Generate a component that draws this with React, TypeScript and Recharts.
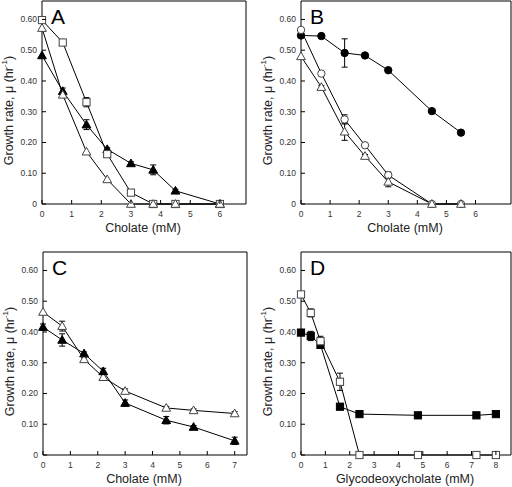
import React from 'react'
import { LineChart, Line, XAxis, YAxis, ErrorBar, ReferenceArea } from 'recharts'

const FONT = '"Liberation Sans", Arial, Helvetica, sans-serif'

// shared y axis
const Y_MAX = 0.66
const Y_TICKS = [0, 0.1, 0.2, 0.3, 0.4, 0.5, 0.6]
const Y_TICK_LABELS = ['0', '0.10', '0.20', '0.30', '0.40', '0.50', '0.60']

// Panel A – cholate
const A_X = [0, 0.7, 1.5, 2.2, 3, 3.75, 4.5, 6]
const A_OPEN_SQUARE = [0.598, 0.525, 0.331, 0.162, 0.037, 0, 0, 0]
const A_OPEN_SQUARE_ERR = [0, 0.005, 0.015, 0.005, 0.005, 0, 0, 0]
const A_OPEN_TRI = [0.572, 0.355, 0.17, 0.08, 0, 0, 0, 0]
const A_OPEN_TRI_ERR = [0, 0, 0, 0, 0, 0, 0, 0]
const A_FILLED_TRI = [0.483, 0.367, 0.258, 0.178, 0.132, 0.111, 0.043, 0]
const A_FILLED_TRI_ERR = [0, 0.01, 0.016, 0.005, 0.005, 0.016, 0.005, 0]
const A_X_TICKS = [0, 1, 2, 3, 4, 5, 6]

// Panel B – cholate
const B_X = [0, 0.7, 1.5, 2.2, 3, 4.5, 5.5]
const B_FILLED_CIRCLE = [0.548, 0.546, 0.491, 0.483, 0.435, 0.302, 0.232]
const B_FILLED_CIRCLE_ERR = [0, 0, 0.046, 0, 0, 0, 0]
const B_OPEN_CIRCLE = [0.566, 0.424, 0.275, 0.191, 0.094, 0, 0]
const B_OPEN_CIRCLE_ERR = [0, 0.006, 0.015, 0.005, 0.01, 0, 0]
const B_OPEN_TRI = [0.48, 0.38, 0.235, 0.156, 0.072, 0, 0]
const B_OPEN_TRI_ERR = [0, 0.005, 0.028, 0.005, 0.016, 0, 0]
const B_X_TICKS = [0, 1, 2, 3, 4, 5, 6]

// Panel C – cholate
const C_X = [0, 0.7, 1.5, 2.2, 3, 4.5, 5.5, 7]
const C_OPEN_TRI = [0.465, 0.419, 0.311, 0.253, 0.208, 0.153, 0.145, 0.135]
const C_OPEN_TRI_ERR = [0, 0.016, 0.005, 0.01, 0.007, 0.005, 0.005, 0.006]
const C_FILLED_TRI = [0.416, 0.374, 0.33, 0.272, 0.169, 0.113, 0.091, 0.046]
const C_FILLED_TRI_ERR = [0.01, 0.02, 0.005, 0.01, 0.01, 0.012, 0.005, 0.012]
const C_X_TICKS = [0, 1, 2, 3, 4, 5, 6, 7]

// Panel D – glycodeoxycholate
const D_X = [0, 0.4, 0.8, 1.6, 2.4, 4.8, 7.2, 8]
const D_OPEN_SQUARE = [0.522, 0.462, 0.37, 0.238, 0, 0, 0, 0]
const D_OPEN_SQUARE_ERR = [0.005, 0.013, 0.016, 0.028, 0, 0, 0, 0]
const D_FILLED_SQUARE = [0.398, 0.387, 0.358, 0.157, 0.133, 0.129, 0.129, 0.133]
const D_FILLED_SQUARE_ERR = [0.005, 0.015, 0.008, 0, 0, 0, 0, 0]
const D_X_TICKS = [0, 1, 2, 3, 4, 5, 6, 7, 8]

type Shape = 'square' | 'triangle' | 'circle'

interface Series {
  key: string
  shape: Shape
  filled: boolean
  values: number[]
  errors: number[]
}

interface PanelProps {
  letter: string
  xLabel: string
  left: number
  top: number
  width: number
  height: number
  margin: { top: number; right: number; bottom: number; left: number }
  yAxisWidth: number
  xAxisHeight: number
  xMax: number
  xTicks: number[]
  xs: number[]
  series: Series[]
}

function Marker({ cx, cy, shape, filled }: { cx?: number; cy?: number; shape: Shape; filled: boolean }) {
  if (cx == null || cy == null) return null
  const fill = filled ? '#000' : '#fff'
  const stroke = filled ? '#000' : '#444'
  if (shape === 'square') {
    return <rect x={cx - 3.6} y={cy - 3.6} width={7.2} height={7.2} fill={fill} stroke={stroke} strokeWidth={1} />
  }
  if (shape === 'circle') {
    return <circle cx={cx} cy={cy} r={3.7} fill={fill} stroke={stroke} strokeWidth={1} />
  }
  return (
    <polygon
      points={`${cx},${cy - 4.4} ${cx - 4.4},${cy + 3.3} ${cx + 4.4},${cy + 3.3}`}
      fill={fill}
      stroke={stroke}
      strokeWidth={1}
    />
  )
}

function XTick(props: any) {
  const { x, y, payload } = props
  return (
    <g>
      <line x1={x} x2={x} y1={y} y2={y - 4} stroke="#000" strokeWidth={1} />
      <text x={x} y={y + 10} textAnchor="middle" dominantBaseline="central" fontSize={8.5} fill="#333" fontFamily={FONT}>
        {payload.value}
      </text>
    </g>
  )
}

function YTick(props: any) {
  const { x, y, payload } = props
  const idx = Y_TICKS.indexOf(payload.value)
  return (
    <g>
      <line x1={x} x2={x + 4} y1={y} y2={y} stroke="#000" strokeWidth={1} />
      <text x={x - 5} y={y} textAnchor="end" dominantBaseline="central" fontSize={8.5} fill="#333" fontFamily={FONT}>
        {idx >= 0 ? Y_TICK_LABELS[idx] : payload.value}
      </text>
    </g>
  )
}

function Panel(p: PanelProps) {
  const data = p.xs.map((x, i) => {
    const row: Record<string, number> = { x }
    p.series.forEach((s) => {
      row[s.key] = s.values[i]
      row[s.key + 'Err'] = s.errors[i]
    })
    return row
  })

  const plotLeft = p.margin.left + p.yAxisWidth
  const plotTop = p.margin.top
  const plotRight = p.width - p.margin.right
  const plotBottom = p.height - p.margin.bottom - p.xAxisHeight
  const yTitleX = plotLeft - 33
  const yTitleY = (plotTop + plotBottom) / 2 + 8

  return (
    <div style={{ position: 'absolute', left: p.left, top: p.top, width: p.width, height: p.height }}>
      <LineChart width={p.width} height={p.height} data={data} margin={p.margin}>
        <XAxis
          type="number"
          dataKey="x"
          domain={[0, p.xMax]}
          ticks={p.xTicks}
          interval={0}
          height={p.xAxisHeight}
          axisLine={false}
          tickLine={false}
          tickSize={0}
          tickMargin={0}
          tick={<XTick />}
          label={{
            content: () => (
              <text
                x={(plotLeft + plotRight) / 2 - 1}
                y={plotBottom + 24}
                textAnchor="middle"
                dominantBaseline="central"
                fontSize={12.5}
                fill="#222"
                fontFamily={FONT}
              >
                {p.xLabel}
              </text>
            ),
          }}
        />
        <YAxis
          type="number"
          domain={[0, Y_MAX]}
          ticks={Y_TICKS}
          interval={0}
          width={p.yAxisWidth}
          axisLine={false}
          tickLine={false}
          tickSize={0}
          tickMargin={0}
          tick={<YTick />}
          label={{
            content: () => (
              <text
                x={yTitleX}
                y={yTitleY}
                transform={`rotate(-90, ${yTitleX}, ${yTitleY})`}
                textAnchor="middle"
                dominantBaseline="central"
                fontSize={12.5}
                fill="#222"
                fontFamily={FONT}
              >
                Growth rate, μ (hr
                <tspan dy={-5} fontSize={8}>-1</tspan>
                <tspan dy={5}>)</tspan>
              </text>
            ),
          }}
        />
        <ReferenceArea
          x1={0}
          x2={p.xMax}
          y1={0}
          y2={Y_MAX}
          fill="none"
          stroke="#000"
          strokeWidth={1}
          ifOverflow="visible"
          label={{
            content: () => (
              <text x={plotLeft + 9} y={plotTop + 23} fontSize={21} fill="#000" fontFamily={FONT}>
                {p.letter}
              </text>
            ),
          }}
        />
        {p.series.map((s) => (
          <Line
            key={s.key}
            type="linear"
            dataKey={s.key}
            stroke="#000"
            strokeWidth={1}
            isAnimationActive={false}
            activeDot={false}
            dot={(d: any) => (
              <Marker key={`${s.key}-${d.index}`} cx={d.cx} cy={d.cy} shape={s.shape} filled={s.filled} />
            )}
          >
            <ErrorBar
              dataKey={s.key + 'Err'}
              direction="y"
              width={3}
              stroke="#000"
              strokeWidth={1}
              isAnimationActive={false}
            />
          </Line>
        ))}
      </LineChart>
    </div>
  )
}

export default function App() {
  return (
    <div style={{ position: 'absolute', left: 0, top: 0, width: 512, height: 487, background: '#fff' }}>
      <Panel
        letter="A"
        xLabel="Cholate (mM)"
        left={0}
        top={0}
        width={256}
        height={240}
        margin={{ top: 1, right: 10, bottom: 0, left: 0 }}
        yAxisWidth={42}
        xAxisHeight={36}
        xMax={6.88}
        xTicks={A_X_TICKS}
        xs={A_X}
        series={[
          { key: 'filledTri', shape: 'triangle', filled: true, values: A_FILLED_TRI, errors: A_FILLED_TRI_ERR },
          { key: 'openSquare', shape: 'square', filled: false, values: A_OPEN_SQUARE, errors: A_OPEN_SQUARE_ERR },
          { key: 'openTri', shape: 'triangle', filled: false, values: A_OPEN_TRI, errors: A_OPEN_TRI_ERR },
        ]}
      />
      <Panel
        letter="B"
        xLabel="Cholate (mM)"
        left={256}
        top={0}
        width={256}
        height={240}
        margin={{ top: 1, right: 1, bottom: 0, left: 0 }}
        yAxisWidth={45}
        xAxisHeight={36}
        xMax={7.22}
        xTicks={B_X_TICKS}
        xs={B_X}
        series={[
          { key: 'filledCircle', shape: 'circle', filled: true, values: B_FILLED_CIRCLE, errors: B_FILLED_CIRCLE_ERR },
          { key: 'openCircle', shape: 'circle', filled: false, values: B_OPEN_CIRCLE, errors: B_OPEN_CIRCLE_ERR },
          { key: 'openTri', shape: 'triangle', filled: false, values: B_OPEN_TRI, errors: B_OPEN_TRI_ERR },
        ]}
      />
      <Panel
        letter="C"
        xLabel="Cholate (mM)"
        left={0}
        top={240}
        width={256}
        height={247}
        margin={{ top: 12, right: 9, bottom: 0, left: 0 }}
        yAxisWidth={43}
        xAxisHeight={32}
        xMax={7.45}
        xTicks={C_X_TICKS}
        xs={C_X}
        series={[
          { key: 'openTri', shape: 'triangle', filled: false, values: C_OPEN_TRI, errors: C_OPEN_TRI_ERR },
          { key: 'filledTri', shape: 'triangle', filled: true, values: C_FILLED_TRI, errors: C_FILLED_TRI_ERR },
        ]}
      />
      <Panel
        letter="D"
        xLabel="Glycodeoxycholate (mM)"
        left={256}
        top={240}
        width={256}
        height={247}
        margin={{ top: 12, right: 1, bottom: 0, left: 0 }}
        yAxisWidth={45}
        xAxisHeight={32}
        xMax={8.62}
        xTicks={D_X_TICKS}
        xs={D_X}
        series={[
          { key: 'filledSquare', shape: 'square', filled: true, values: D_FILLED_SQUARE, errors: D_FILLED_SQUARE_ERR },
          { key: 'openSquare', shape: 'square', filled: false, values: D_OPEN_SQUARE, errors: D_OPEN_SQUARE_ERR },
        ]}
      />
    </div>
  )
}
